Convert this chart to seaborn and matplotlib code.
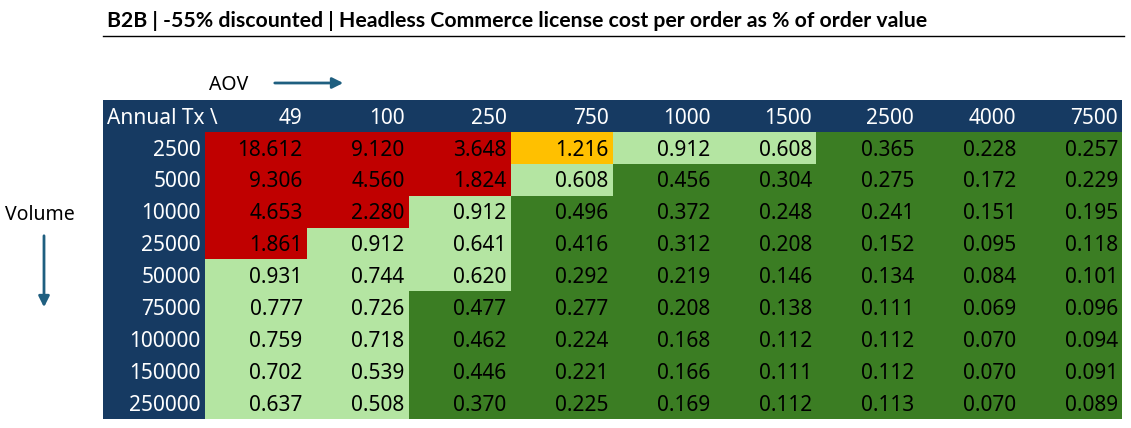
import numpy as np
import pandas as pd
import matplotlib
matplotlib.use("Agg")
import matplotlib.pyplot as plt
import seaborn as sns
from matplotlib.colors import ListedColormap, BoundaryNorm
from matplotlib.patches import Rectangle, FancyArrowPatch
from matplotlib.lines import Line2D

# data
aov = [49, 100, 250, 750, 1000, 1500, 2500, 4000, 7500]
annual_tx = [2500, 5000, 10000, 25000, 50000, 75000, 100000, 150000, 250000]
cost_pct = [
    [18.612, 9.120, 3.648, 1.216, 0.912, 0.608, 0.365, 0.228, 0.257],
    [9.306, 4.560, 1.824, 0.608, 0.456, 0.304, 0.275, 0.172, 0.229],
    [4.653, 2.280, 0.912, 0.496, 0.372, 0.248, 0.241, 0.151, 0.195],
    [1.861, 0.912, 0.641, 0.416, 0.312, 0.208, 0.152, 0.095, 0.118],
    [0.931, 0.744, 0.620, 0.292, 0.219, 0.146, 0.134, 0.084, 0.101],
    [0.777, 0.726, 0.477, 0.277, 0.208, 0.138, 0.111, 0.069, 0.096],
    [0.759, 0.718, 0.462, 0.224, 0.168, 0.112, 0.112, 0.070, 0.094],
    [0.702, 0.539, 0.446, 0.221, 0.166, 0.111, 0.112, 0.070, 0.091],
    [0.637, 0.508, 0.370, 0.225, 0.169, 0.112, 0.113, 0.070, 0.089],
]
thresholds = [0, 0.5, 1.0, 1.5, 1000]

# colours
navy = "#163a62"
dark_green = "#3b7d23"
light_green = "#b4e5a2"
orange = "#ffc000"
red = "#c00000"
arrow_col = "#1f5f80"

plt.rcParams['font.family'] = ['Noto Sans', 'DejaVu Sans']

df = pd.DataFrame(cost_pct, index=annual_tx, columns=aov)

W, H = 1131, 428
fig = plt.figure(figsize=(W / 100, H / 100), dpi=100)
ax = fig.add_axes([103 / W, 1 - 419 / H, (1122 - 103) / W, (419 - 100) / H])

cmap = ListedColormap([dark_green, light_green, orange, red])
norm = BoundaryNorm(thresholds, cmap.N)
sns.heatmap(df, ax=ax, cmap=cmap, norm=norm, annot=True, fmt=".3f", cbar=False,
            xticklabels=False, yticklabels=False,
            annot_kws=dict(fontsize=15, color="black"))

# right-align the numbers like in a spreadsheet
for t in ax.texts:
    x, y = t.get_position()
    t.set_position((x + 0.46, y + 0.07))
    t.set_ha("right")

ax.set_xlim(-1, len(aov))
ax.set_ylim(len(annual_tx), -1)
ax.set_axis_off()

# header row / column
ax.add_patch(Rectangle((-1, -1), len(aov) + 1, 1, color=navy, lw=0))
ax.add_patch(Rectangle((-1, -1), 1, len(annual_tx) + 1, color=navy, lw=0))
ax.text(-0.96, -0.43, "Annual Tx \\", ha="left", va="center", color="white", fontsize=15)
for j, a in enumerate(aov):
    ax.text(j + 0.96, -0.43, str(a), ha="right", va="center", color="white", fontsize=15)
for i, n in enumerate(annual_tx):
    ax.text(-0.04, i + 0.57, str(n), ha="right", va="center", color="white", fontsize=15)

# title + underline
fig.text(107 / W, 1 - 21 / H, "B2B | -55% discounted | Headless Commerce license cost per order as % of order value",
         fontsize=15.3, fontweight="bold", family=["Lato", "DejaVu Sans"], va="center", ha="left")
fig.add_artist(Line2D([103 / W, 1124 / W], [1 - 36 / H] * 2, color="black", lw=1))

# axis hints
fig.text(209 / W, 1 - 85 / H, "AOV", fontsize=14, va="center", ha="left")
fig.add_artist(FancyArrowPatch((272 / W, 1 - 83 / H), (346 / W, 1 - 83 / H), transform=fig.transFigure,
                               arrowstyle="-|>", mutation_scale=16, color=arrow_col, lw=2))
fig.text(5 / W, 1 - 215 / H, "Volume", fontsize=14, va="center", ha="left")
fig.add_artist(FancyArrowPatch((44 / W, 1 - 233 / H), (44 / W, 1 - 310 / H), transform=fig.transFigure,
                               arrowstyle="-|>", mutation_scale=16, color=arrow_col, lw=2))

fig.savefig("out.png", dpi=100)
